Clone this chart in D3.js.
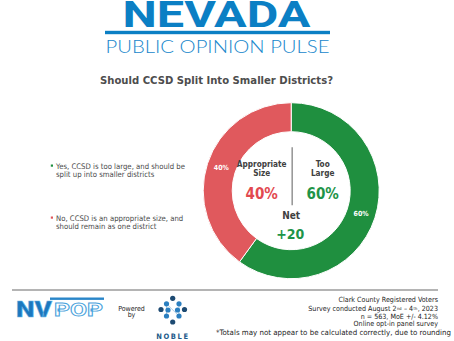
<!DOCTYPE html>
<html>
<head>
<meta charset="utf-8">
<script src="https://cdn.jsdelivr.net/npm/d3@7"></script>
<style>
  html, body { margin: 0; padding: 0; background: #fff; }
  svg { display: block; }
  text { font-family: "DejaVu Sans Condensed", "DejaVu Sans", Verdana, sans-serif; white-space: pre; }
</style>
</head>
<body>
<svg id="chart" width="454" height="341"></svg>
<script>
// Poll results
const shortLabels = [["Too", "Large"], ["Appropriate", "Size"]];
const shares = [60, 40];
const colors = ["#1f8f3f", "#e0595d"];
const textColors = ["#1e9448", "#e2494f"];
const legendLines = [["Yes, CCSD is too large, and should be", "split up into smaller districts"],
                     ["No, CCSD is an appropriate size, and", "should remain as one district"]];
// Survey notes; [text, isSuperscript] pieces per line
const footnotes = [
  [["Clark County Registered Voters", false]],
  [["Survey conducted August 2", false], ["nd", true], [" – 4", false], ["th", true], [", 2023", false]],
  [["n = 563, MoE +/- 4.12%", false]],
  [["Online opt-in panel survey", false]]
];
const roundingNote = "*Totals may not appear to be calculated correctly, due to rounding";

const svg = d3.select("#chart");

// ---- Header ----
const blue = "#0b7fc4";
svg.append("text").attr("x", 216.5).attr("y", 27).attr("text-anchor", "middle")
  .style("font-family", "Roboto, 'Open Sans', sans-serif").attr("font-weight", 700)
  .attr("font-size", 37).attr("fill", blue)
  .attr("textLength", 188).attr("lengthAdjust", "spacingAndGlyphs")
  .text("NEVADA");
svg.append("rect").attr("x", 105).attr("y", 30.8).attr("width", 225).attr("height", 3.4).attr("fill", blue);
svg.append("text").attr("x", 217.5).attr("y", 53).attr("text-anchor", "middle")
  .style("font-family", "Lato, 'Open Sans', sans-serif").attr("font-weight", 300)
  .attr("font-size", 18).attr("fill", "#1787cc")
  .attr("textLength", 224).attr("lengthAdjust", "spacingAndGlyphs")
  .text("PUBLIC OPINION PULSE");

// ---- Title ----
svg.append("text").attr("x", 216.5).attr("y", 83.5).attr("text-anchor", "middle")
  .attr("font-weight", "bold").attr("font-size", 11).attr("fill", "#4d4d4d")
  .attr("textLength", 233).attr("lengthAdjust", "spacingAndGlyphs")
  .text("Should CCSD Split Into Smaller Districts?");

// ---- Donut ----
const cx = 291.2, cy = 190.7, rOuter = 88, rInner = 59;
const g = svg.append("g").attr("transform", `translate(${cx},${cy})`);
const pie = d3.pie().sort(null).value(d => d)(shares);
const arc = d3.arc().innerRadius(rInner).outerRadius(rOuter);
g.selectAll("path.slice").data(pie).join("path")
  .attr("class", "slice")
  .attr("d", arc)
  .attr("fill", (d, i) => colors[i])
  .attr("stroke", "#fff").attr("stroke-width", 1);
g.selectAll("text.pct").data(pie).join("text")
  .attr("class", "pct")
  .attr("transform", d => `translate(${arc.centroid(d)})`)
  .attr("text-anchor", "middle").attr("dy", "0.35em")
  .attr("font-weight", "bold").attr("font-size", 7).attr("fill", "#fff")
  .text(d => d.data + "%");

// Center summary
const colX = [cx + 31.5, cx - 29.5];
g.append("line").attr("x1", 1).attr("x2", 1).attr("y1", -43.5).attr("y2", 14.5)
  .attr("stroke", "#9a9a9a").attr("stroke-width", 1.6);
shortLabels.forEach((words, i) => {
  words.forEach((w, j) => {
    svg.append("text").attr("x", colX[i]).attr("y", 167 + j * 9).attr("text-anchor", "middle")
      .attr("font-weight", "bold").attr("font-size", 8.2).attr("fill", "#404040").text(w);
  });
  svg.append("text").attr("x", colX[i]).attr("y", 198.5).attr("text-anchor", "middle")
    .attr("font-weight", "bold").attr("font-size", 15).attr("fill", textColors[i])
    .text(shares[i] + "%");
});
svg.append("text").attr("x", cx).attr("y", 218.5).attr("text-anchor", "middle")
  .attr("font-weight", "bold").attr("font-size", 10).attr("fill", "#404040").text("Net");
const net = shares[0] - shares[1];
svg.append("text").attr("x", cx - 1).attr("y", 239).attr("text-anchor", "middle")
  .attr("font-weight", "bold").attr("font-size", 14).attr("fill", textColors[0])
  .text((net > 0 ? "+" : "") + net);

// ---- Legend ----
const legY = [168.5, 220.5];
legendLines.forEach((lines, i) => {
  svg.append("rect").attr("x", 50.8).attr("y", legY[i] - 4).attr("width", 2.2).attr("height", 2.2)
    .attr("fill", colors[i]);
  lines.forEach((t, j) => {
    svg.append("text").attr("x", 56).attr("y", legY[i] + j * 8.8)
      .attr("font-size", 7.7).attr("fill", "#4a4a4a").text(t);
  });
});

// ---- Footer ----
svg.append("line").attr("x1", 12).attr("x2", 438).attr("y1", 290).attr("y2", 290)
  .attr("stroke", "#9b9b9b").attr("stroke-width", 1.4);

// NV POP logo
svg.append("text").attr("x", 16).attr("y", 316.5)
  .style("font-family", "Roboto, sans-serif").attr("font-weight", 900).attr("font-size", 22)
  .attr("fill", "#1c78be").attr("stroke", "#6cb7e6").attr("stroke-width", 0.5)
  .attr("textLength", 36).attr("lengthAdjust", "spacingAndGlyphs").text("NV");
svg.append("rect").attr("x", 50).attr("y", 297.5).attr("width", 54).attr("height", 2.4).attr("fill", "#2a86c9");
svg.append("text").attr("x", 54).attr("y", 316)
  .style("font-family", "Roboto, sans-serif").attr("font-weight", 700).attr("font-size", 19)
  .attr("fill", "#fff").attr("stroke", "#4ba3dc").attr("stroke-width", 0.9)
  .attr("textLength", 49).attr("lengthAdjust", "spacingAndGlyphs").text("POP");

svg.append("text").attr("x", 131.5).attr("y", 310.5).attr("text-anchor", "middle")
  .attr("font-size", 7).attr("fill", "#222").text("Powered");
svg.append("text").attr("x", 131.5).attr("y", 317).attr("text-anchor", "middle")
  .attr("font-size", 7).attr("fill", "#222").text("by");

// Noble mark: diamond of dots
const navy = "#1d4a72", lblue = "#2b7fc0";
const nobleDots = [
  [172.7, 298.3, navy], [166.5, 303.8, lblue], [179, 303.8, lblue],
  [161, 309.5, navy], [168, 310, lblue], [177.5, 310, lblue], [184.5, 309.5, navy],
  [166.5, 316, lblue], [179, 316, lblue], [172.7, 322, navy]
];
svg.append("path").attr("d", "M166.5,316 L166.5,303.8 L179,316 L179,303.8")
  .attr("fill", "none").attr("stroke", "#9fc4e2").attr("stroke-width", 0.8);
svg.selectAll("circle.noble").data(nobleDots).join("circle")
  .attr("class", "noble").attr("cx", d => d[0]).attr("cy", d => d[1]).attr("r", 2.6)
  .attr("fill", d => d[2]);
svg.append("text").attr("x", 173).attr("y", 338.5).attr("text-anchor", "middle")
  .attr("font-weight", "bold").attr("font-size", 7.5).attr("fill", "#1d5a8a")
  .attr("letter-spacing", 1.6).text("NOBLE");

// Methodology notes, right aligned at x = 438; pieces laid out right to left
const noteY = [302.3, 311.2, 318.6, 326.2];
footnotes.forEach((pieces, i) => {
  let right = 438;
  pieces.slice().reverse().forEach(([t, sup]) => {
    const el = svg.append("text").attr("x", right).attr("y", noteY[i] - (sup ? 1.6 : 0))
      .attr("text-anchor", "end").attr("font-size", sup ? 4 : 7.1).attr("fill", "#222").text(t);
    right -= el.node().getComputedTextLength() + (pieces.length > 1 ? 0.4 : 0);
  });
});
svg.append("text").attr("x", 216).attr("y", 334.5)
  .attr("font-size", 7.4).attr("fill", "#222")
  .attr("textLength", 235).attr("lengthAdjust", "spacingAndGlyphs")
  .text(roundingNote);
</script>
</body>
</html>
